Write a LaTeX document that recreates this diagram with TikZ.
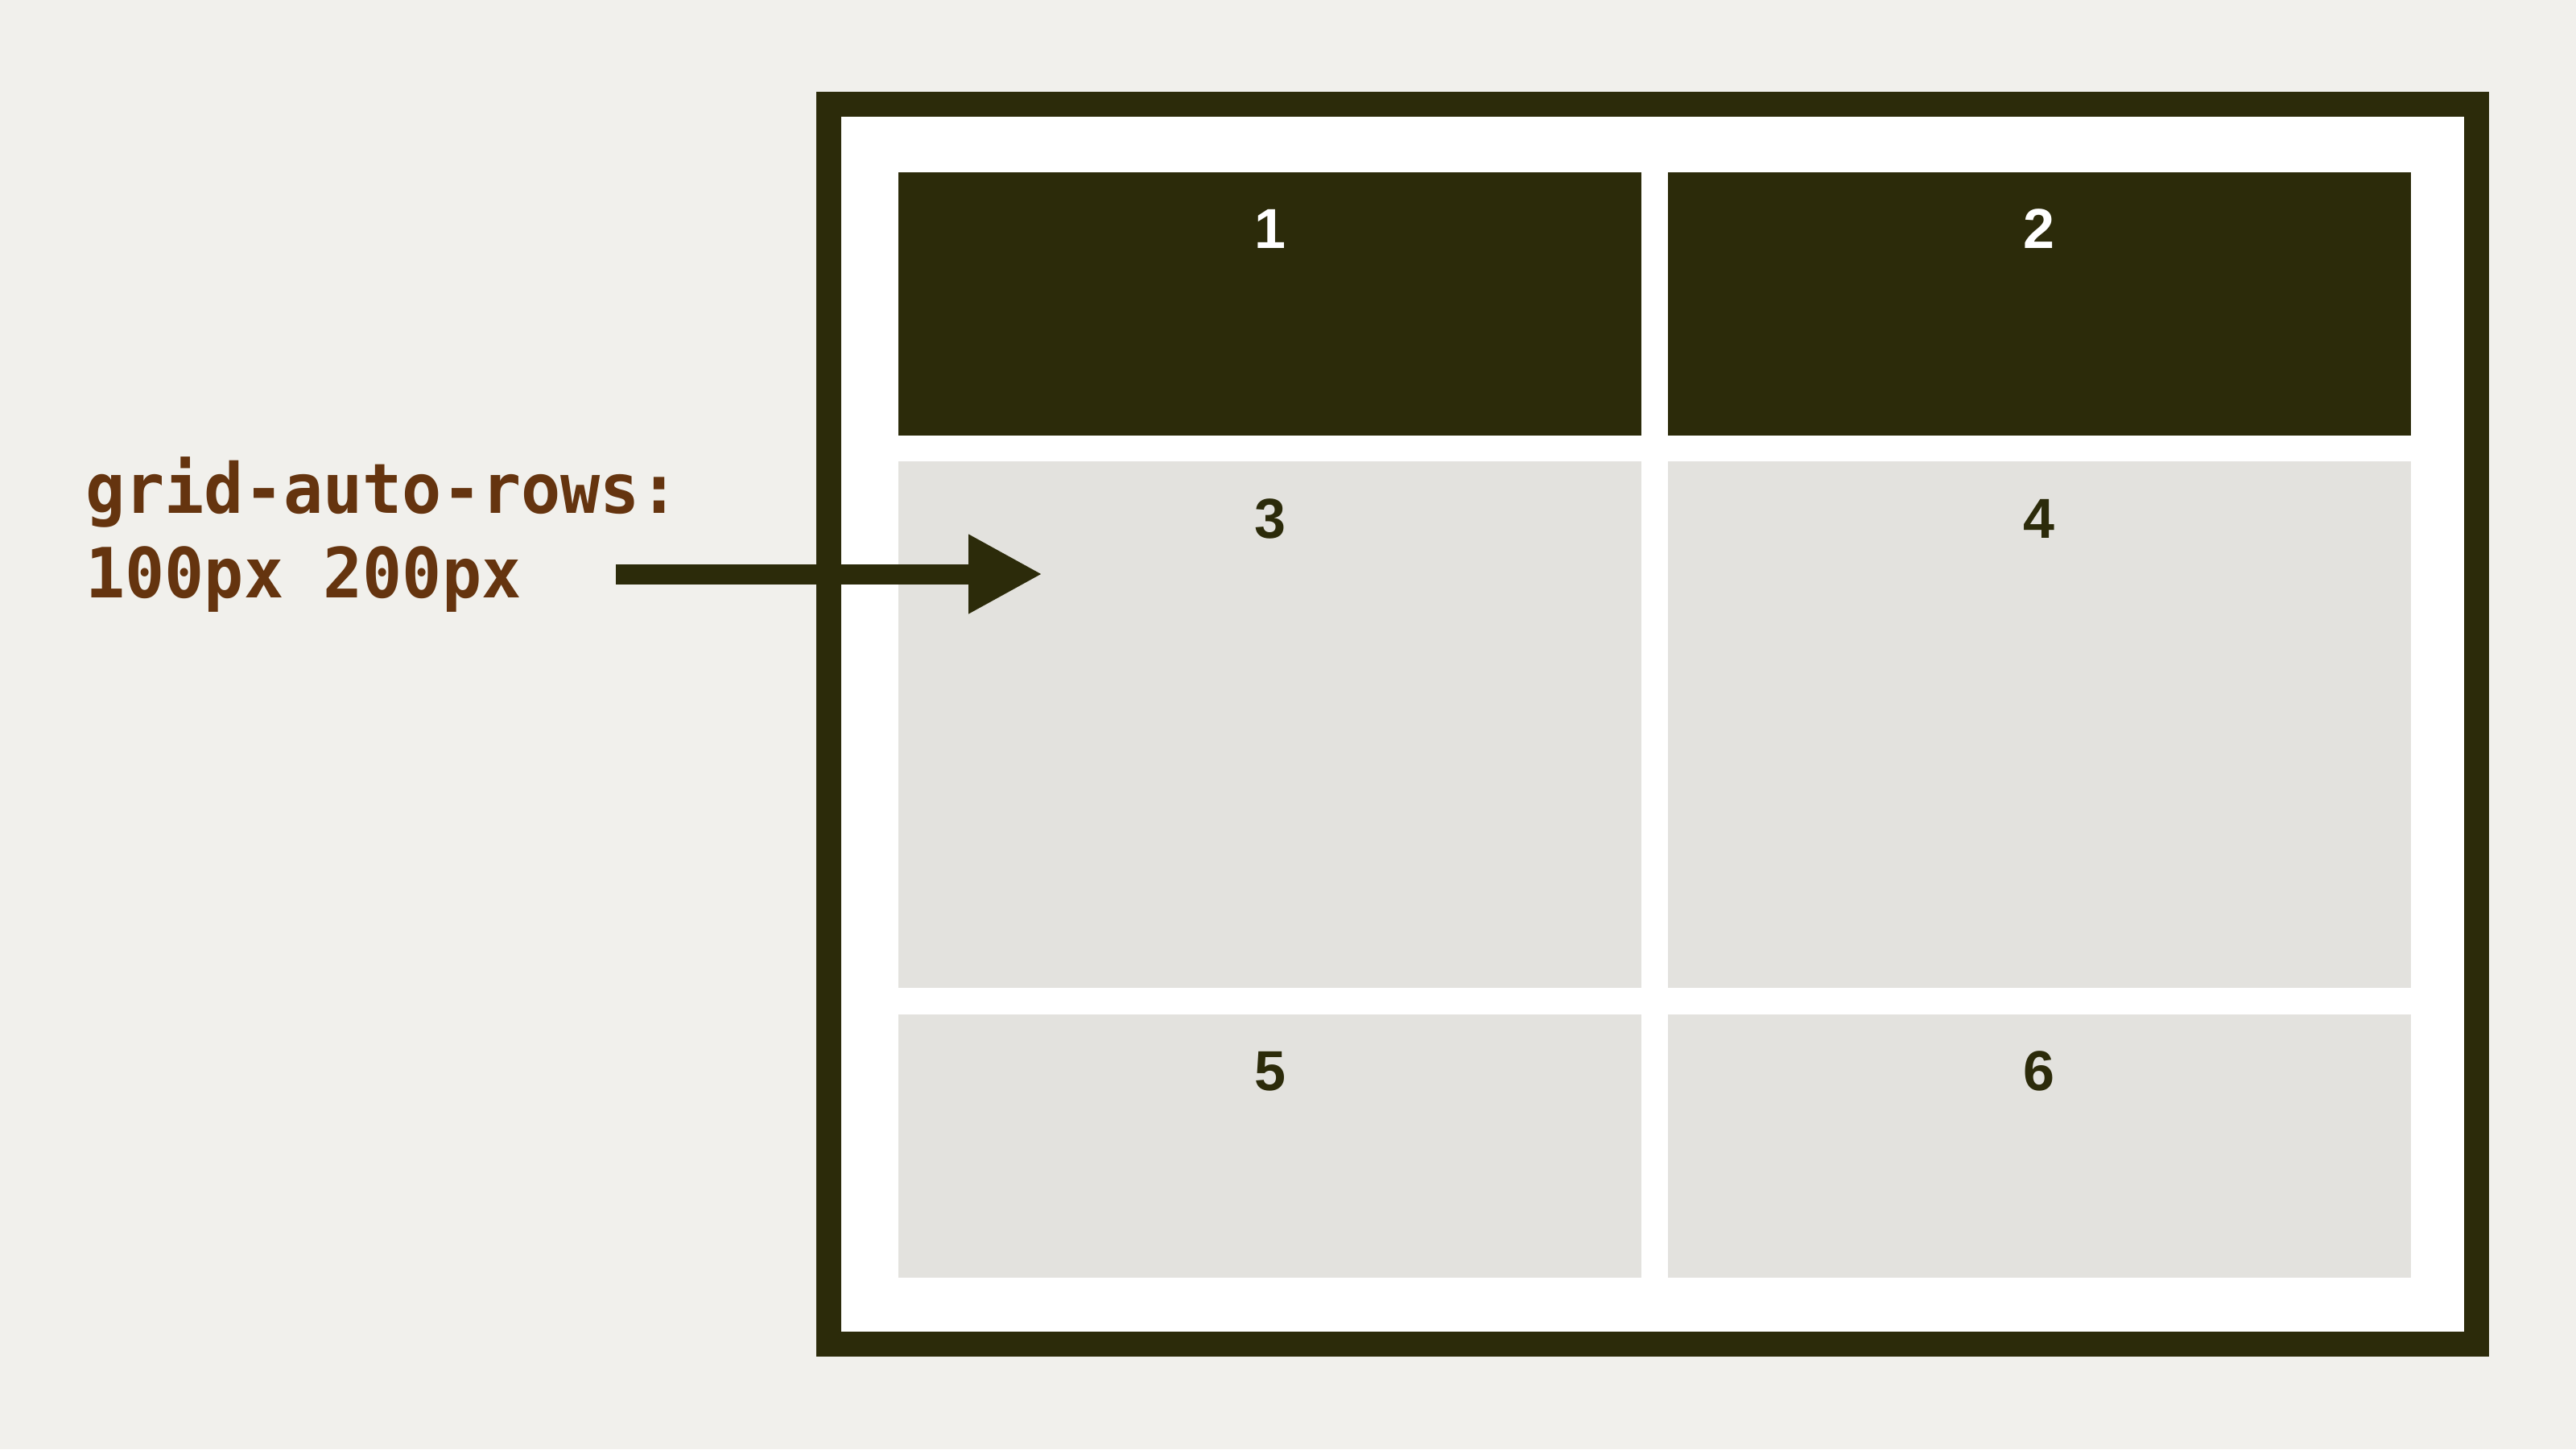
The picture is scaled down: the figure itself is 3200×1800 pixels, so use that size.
\documentclass[tikz,border=0pt]{standalone}
\usepackage{fontspec}
\setmainfont{Liberation Sans}
\newfontfamily\labelfont[FakeStretch=0.95]{DejaVu Sans Mono}
\usetikzlibrary{arrows.meta,calc}
\definecolor{bgc}{HTML}{F1F0EC}
\definecolor{darkc}{HTML}{2C2B0A}
\definecolor{lightc}{HTML}{E3E2DE}
\definecolor{brownc}{HTML}{65340F}
\begin{document}
\begin{tikzpicture}[x=0.5pt,y=-0.5pt,
  frame/.style={draw=darkc,line width=15.5pt,fill=white},
  cellbox/.style={rectangle,inner sep=0pt,outer sep=0pt,minimum width=461.5pt,minimum height=163.5pt},
  darkcell/.style={cellbox,fill=darkc},
  lightcell/.style={cellbox,fill=lightc},
  tallcell/.style={lightcell,minimum height=327pt},
  numtext/.style={anchor=base,inner sep=0pt,font=\bfseries\fontsize{35}{40}\selectfont},
  labeltext/.style={anchor=base west,inner sep=0pt,text=brownc,font=\labelfont\bfseries\fontsize{43}{52}\selectfont},
  pointer/.style={draw=darkc,line width=12.5pt,-{Triangle[length=46pt,width=46pt]}}
]
\useasboundingbox[fill=bgc] (0,0) rectangle (3200,1800);
\draw[frame] (1029.5,129.5) rectangle (3076.5,1669.5);
% cells
\node[darkcell] (c1) at (1577.5,377) {};
\node[darkcell] (c2) at (2533,377) {};
\node[tallcell] (c3) at (1577.5,900) {};
\node[tallcell] (c4) at (2533,900) {};
\node[lightcell] (c5) at (1577.5,1423) {};
\node[lightcell] (c6) at (2533,1423) {};
% numbers
\node[numtext,text=white] (n1) at ($(c1.north)+(0,95)$) {1};
\node[numtext,text=white] (n2) at ($(c2.north)+(0,95)$) {2};
\node[numtext,text=darkc] (n3) at ($(c3.north)+(0,95)$) {3};
\node[numtext,text=darkc] (n4) at ($(c4.north)+(0,95)$) {4};
\node[numtext,text=darkc] (n5) at ($(c5.north)+(0,95)$) {5};
\node[numtext,text=darkc] (n6) at ($(c6.north)+(0,95)$) {6};
% label
\node[labeltext] (lab1) at (106,637) {grid-auto-rows:};
\node[labeltext] (lab2) at (106,742) {100px 200px};
% arrow
\coordinate (arrowstart) at (765,713);
\coordinate (arrowtip) at (1295,713);
\draw[pointer] (arrowstart) -- (arrowtip);
\end{tikzpicture}
\end{document}
